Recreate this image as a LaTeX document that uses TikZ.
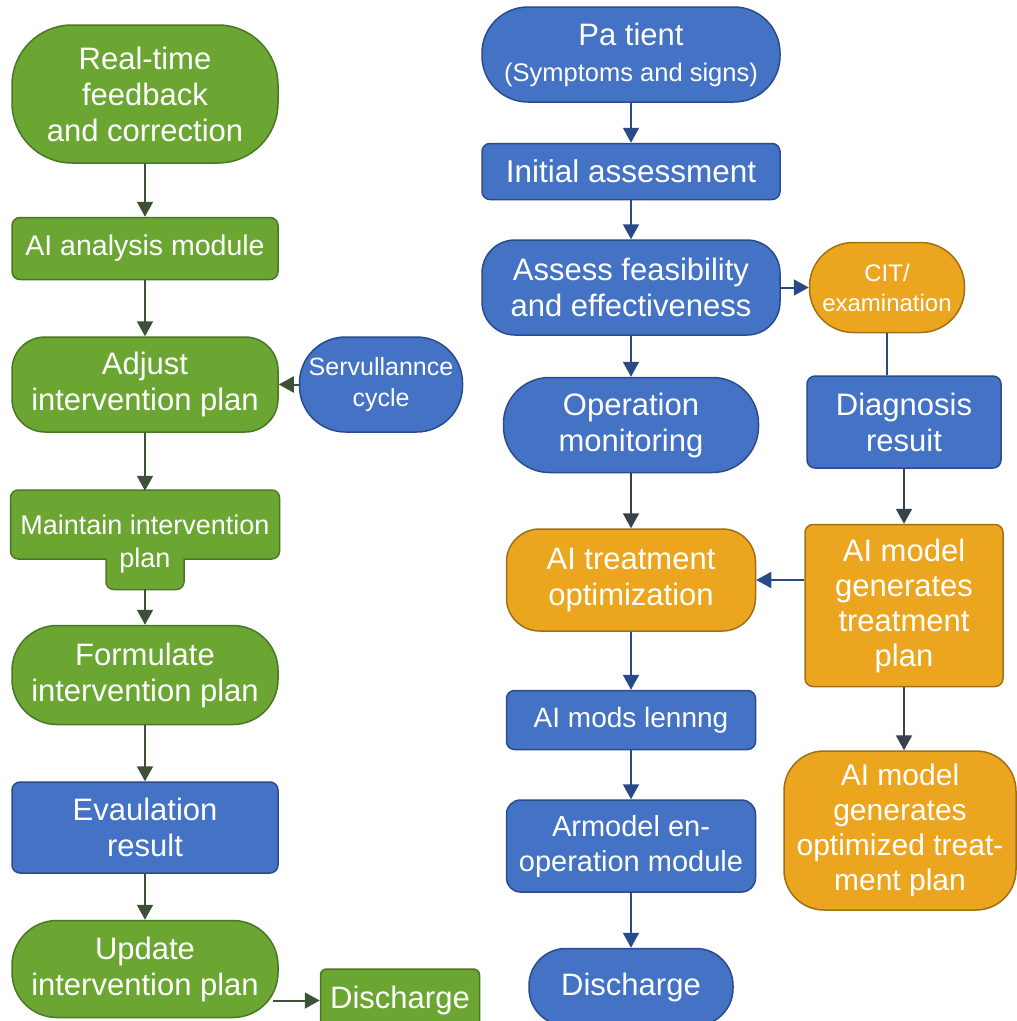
\documentclass[tikz,border=0pt]{standalone}
\usepackage{fontspec}
\setmainfont{Liberation Sans}
\usetikzlibrary{arrows.meta,positioning,backgrounds}

\definecolor{gfill}{HTML}{6BA633}
\definecolor{gline}{HTML}{4A7625}
\definecolor{bfill}{HTML}{4472C4}
\definecolor{bline}{HTML}{2A4C8C}
\definecolor{ofill}{HTML}{ECA51E}
\definecolor{oline}{HTML}{9E7114}
\definecolor{larr}{HTML}{3D5137}
\definecolor{rarr}{HTML}{284A86}
\definecolor{darr}{HTML}{38424A}

\begin{document}
\begin{tikzpicture}[x=1pt, y=-1pt, >={Triangle[width=16pt,length=15pt]}]
        \tikzset{
            block/.style= {
                align=center,
                text=white,
                font=\fontsize{31}{36}\selectfont,
                inner sep=2pt,
                line width=1.5pt
            },
            gblock/.style={block, fill=gfill, draw=gline},
            bblock/.style={block, fill=bfill, draw=bline},
            oblock/.style={block, fill=ofill, draw=oline},
            gtext/.style={block},
            larrow/.style={every edge/.style={draw=larr, ->, line width=2pt}},
            rarrow/.style={every edge/.style={draw=rarr, ->, line width=2pt}},
            darrow/.style={every edge/.style={draw=darr, ->, line width=2pt}},
        }
        \useasboundingbox (0,0) rectangle (1017,1021);
%% left column
        \node [gblock, rounded corners=60pt, minimum width=266pt, minimum height=138pt] (realtime) at (145,94)
            {Real-time\\feedback\\and correction};
        \node [gblock, rounded corners=8pt, minimum width=266pt, minimum height=62pt, below =53pt of realtime,
               font=\fontsize{28.5}{34}\selectfont] (analysis)
            {AI analysis module};
        \node [gblock, rounded corners=33pt, minimum width=266pt, minimum height=95pt, below =56pt of analysis] (adjust)
            {Adjust\\intervention plan};
        \node [bblock, rounded corners=46pt, minimum width=163pt, minimum height=95pt, right =20pt of adjust,
               font=\fontsize{25}{31}\selectfont] (surveil)
            {Servullannce\\cycle};
        \node [gtext, minimum width=266pt, minimum height=66pt, below =58pt of adjust,
               font=\fontsize{27}{32}\selectfont] (maintain)
            {Maintain intervention};
        \node [gtext, minimum width=75pt, minimum height=54pt, below =-25pt of maintain,
               font=\fontsize{27}{32}\selectfont] (mtab)
            {plan};
        \node [gblock, rounded corners=45pt, minimum width=266pt, minimum height=99pt, below =36pt of mtab] (formulate)
            {Formulate\\intervention plan};
        \node [bblock, rounded corners=8pt, minimum width=266pt, minimum height=91pt, below =56pt of formulate] (evalres)
            {Evaulation\\result};
        \node [gblock, rounded corners=45pt, minimum width=266pt, minimum height=97pt, below =46pt of evalres] (update)
            {Update\\intervention plan};
        \node [gblock, rounded corners=6pt, minimum width=159pt, minimum height=63pt, below right =-50pt and 41pt of update] (dischL)
            {Discharge};
        \begin{scope}[on background layer]
            \path[draw=gline, line width=3pt, rounded corners=7pt]
                (maintain.south west) rectangle (maintain.north east)
                (mtab.south west) rectangle (mtab.north east);
            \path[fill=gfill, rounded corners=7pt]
                (maintain.south west) rectangle (maintain.north east)
                (mtab.south west) rectangle (mtab.north east);
        \end{scope}
%% right column
        \node [bblock, rounded corners=46pt, minimum width=298pt, minimum height=95pt] (patient) at (631,54.5)
            {Pa tient\\{\fontsize{25.5}{30}\selectfont (Symptoms and signs)}};
        \node [bblock, rounded corners=8pt, minimum width=298pt, minimum height=56pt, below =40pt of patient,
               font=\fontsize{31.5}{36}\selectfont] (initial)
            {Initial assessment};
        \node [bblock, rounded corners=33pt, minimum width=298pt, minimum height=95pt, below =39pt of initial] (assess)
            {Assess feasibility\\and effectiveness};
        \node [oblock, rounded corners=44pt, minimum width=155pt, minimum height=90pt, right =28pt of assess,
               font=\fontsize{24}{30}\selectfont] (cit)
            {CIT/\\examination};
        \node [bblock, rounded corners=46pt, minimum width=255pt, minimum height=95pt, below =41pt of assess] (operation)
            {Operation\\monitoring};
        \node [oblock, rounded corners=33pt, minimum width=249pt, minimum height=102pt, below =55pt of operation] (aitreat)
            {AI treatment\\optimization};
        \node [bblock, rounded corners=8pt, minimum width=249pt, minimum height=59pt, below =58pt of aitreat,
               font=\fontsize{28}{34}\selectfont] (aimods)
            {AI mods lennng};
        \node [bblock, rounded corners=14pt, minimum width=249pt, minimum height=92pt, below =49pt of aimods,
               font=\fontsize{29}{35}\selectfont] (armodel)
            {Armodel en-\\operation module};
        \node [bblock, rounded corners=37pt, minimum width=204pt, minimum height=77pt, below =55pt of armodel] (dischR)
            {Discharge};
        \node [bblock, rounded corners=8pt, minimum width=194pt, minimum height=92pt] (diag) at (904,422)
            {Diagnosis\\resuit};
        \node [oblock, rounded corners=8pt, minimum width=198pt, minimum height=162pt, below =55pt of diag,
               font=\fontsize{31}{35}\selectfont] (aigen)
            {AI model\\generates\\treatment\\plan};
        \node [oblock, rounded corners=40pt, minimum width=232pt, minimum height=159pt, below =63pt of aigen, xshift=-4pt,
               font=\fontsize{30}{35}\selectfont] (aiopt)
            {AI model\\generates\\optimized treat-\\ment plan};
%% paths
\path[larrow]
    (realtime) edge (analysis)
    (analysis) edge (adjust)
    (surveil) edge (adjust)
    (adjust) edge (maintain)
    (mtab) edge (formulate)
    (formulate) edge (evalres)
    (evalres) edge (update)
    ([xshift=-6pt]update.east |- dischL) edge (dischL)
;
\path[rarrow]
    (patient) edge (initial)
    (initial) edge (assess)
    (assess) edge (cit)
    (assess) edge (operation)
    (aigen.west |- aitreat) edge (aitreat)
    (aitreat) edge (aimods)
    (aimods) edge (armodel)
    (armodel) edge (dischR)
;
\path[darrow]
    (operation) edge (aitreat)
    (diag) edge (aigen)
    (aigen) edge (aigen |- aiopt.north)
;
\draw[rarr, line width=2pt] (cit) -- (cit.south |- diag.north);
\end{tikzpicture}
\end{document}
